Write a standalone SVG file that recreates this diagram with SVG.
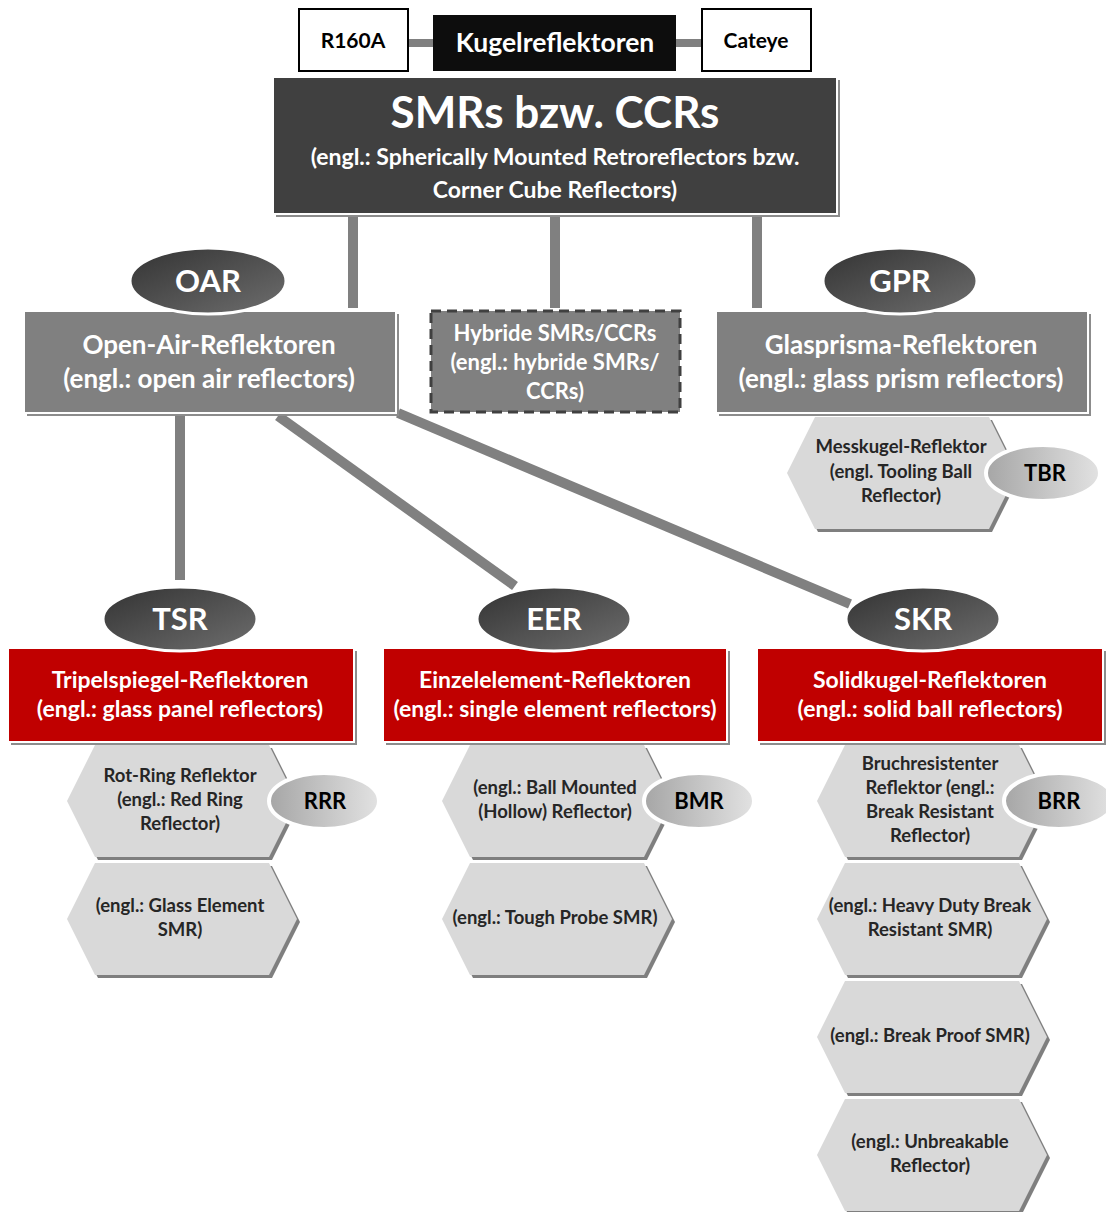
<svg xmlns="http://www.w3.org/2000/svg" width="1106" height="1212" viewBox="0 0 1106 1212">
<defs>
<linearGradient id="gDark" x1="0" y1="0" x2="1" y2="1">
<stop offset="0" stop-color="#333333"/><stop offset="1" stop-color="#6e6e6e"/>
</linearGradient>
<linearGradient id="gLight" x1="0" y1="0" x2="1" y2="0">
<stop offset="0" stop-color="#a6a6a6"/><stop offset="1" stop-color="#e2e2e2"/>
</linearGradient>
<polygon id="hex" points="0,56 28,0 202,0 230,56 202,112 28,112"/>
</defs>
<style>
text{font-family:Lato,"Open Sans","Liberation Sans",sans-serif;font-weight:bold;text-anchor:middle}
.conn{stroke:#808080;stroke-width:10;fill:none}
.shadow{fill:#8c8c8c}
.box{stroke:#ffffff;stroke-width:2}
.grey{fill:#808080}
.red{fill:#c00000}
.hexf{fill:#d9d9d9}
.hexs{fill:#7f7f7f}
.big{fill:url(#gDark);stroke:#ffffff;stroke-width:3}
.small{fill:url(#gLight);stroke:#ffffff;stroke-width:4}
.w{fill:#ffffff}
.k{fill:#000000}
.d{fill:#262626}
.hx{font-size:18.5px}
</style>
<rect width="1106" height="1212" fill="#ffffff"/>
<g id="connectors">
<rect x="408" y="39" width="25" height="8" fill="#808080"/>
<rect x="676" y="39" width="26" height="8" fill="#808080"/>
<line class="conn" x1="353" y1="214" x2="353" y2="308"/>
<line class="conn" x1="555" y1="214" x2="555" y2="308"/>
<line class="conn" x1="757" y1="214" x2="757" y2="308"/>
<line class="conn" x1="180" y1="413" x2="180" y2="580"/>
<line class="conn" x1="278" y1="416" x2="515" y2="586"/>
<line class="conn" x1="398" y1="413" x2="850" y2="604"/>
</g>
<g id="r160a">
<rect x="299" y="9" width="109" height="62" fill="#ffffff" stroke="#000000" stroke-width="2"/>
<text x="353" y="48" font-size="21" class="k">R160A</text>
</g>
<g id="kugel">
<rect x="433" y="15" width="243" height="56" fill="#0d0d0d"/>
<text x="555" y="52" font-size="26.5" class="w">Kugelreflektoren</text>
</g>
<g id="cateye">
<rect x="702" y="9" width="109" height="62" fill="#ffffff" stroke="#000000" stroke-width="2"/>
<text x="756" y="48" font-size="21" class="k">Cateye</text>
</g>
<g id="smr">
<rect x="276" y="80" width="564" height="137" class="shadow"/>
<rect x="273" y="77" width="564" height="137" fill="#404040" class="box"/>
<text x="555" y="128" font-size="44" class="w">SMRs bzw. CCRs</text>
<text x="555" y="165" font-size="23" class="w">(engl.: Spherically Mounted Retroreflectors bzw.</text>
<text x="555" y="198" font-size="23" class="w">Corner Cube Reflectors)</text>
</g>
<g id="oar">
<rect x="27" y="314" width="372" height="102" class="shadow"/>
<rect x="24" y="311" width="372" height="102" class="grey box"/>
<text x="209" y="354" font-size="26" class="w">Open-Air-Reflektoren</text>
<text x="209" y="388" font-size="26" class="w">(engl.: open air reflectors)</text>
<ellipse cx="208" cy="281" rx="78" ry="33" class="big"/>
<text x="208" y="292" font-size="31" class="w">OAR</text>
</g>
<g id="hybrid">
<rect x="431" y="311" width="249" height="101" class="grey" stroke="#404040" stroke-width="3" stroke-dasharray="10 6"/>
<text x="555" y="341" font-size="22" class="w">Hybride SMRs/CCRs</text>
<text x="555" y="370" font-size="22" class="w">(engl.: hybride SMRs/</text>
<text x="555" y="399" font-size="22" class="w">CCRs)</text>
</g>
<g id="gpr">
<rect x="719" y="314" width="372" height="102" class="shadow"/>
<rect x="716" y="311" width="372" height="102" class="grey box"/>
<text x="901" y="354" font-size="26" class="w">Glasprisma-Reflektoren</text>
<text x="901" y="388" font-size="26" class="w">(engl.: glass prism reflectors)</text>
<ellipse cx="900" cy="281" rx="77" ry="33" class="big"/>
<text x="900" y="292" font-size="31" class="w">GPR</text>
</g>
<g id="tbr">
<use href="#hex" x="790" y="420" class="hexs"/>
<use href="#hex" x="787" y="417" class="hexf"/>
<text x="901" y="453" class="d hx">Messkugel-Reflektor</text>
<text x="901" y="478" class="d hx">(engl. Tooling Ball</text>
<text x="901" y="502" class="d hx">Reflector)</text>
<ellipse cx="1043" cy="473" rx="57" ry="28" class="small"/>
<text x="1045" y="481" font-size="22" class="k">TBR</text>
</g>
<g id="tsr">
<rect x="11" y="651" width="346" height="94" class="shadow"/>
<rect x="8" y="648" width="346" height="94" class="red box"/>
<text x="180" y="688" font-size="23" class="w">Tripelspiegel-Reflektoren</text>
<text x="180" y="717" font-size="23" class="w">(engl.: glass panel reflectors)</text>
<ellipse cx="180" cy="619" rx="77" ry="32" class="big"/>
<text x="180" y="630" font-size="31" class="w">TSR</text>
</g>
<g id="rrr">
<use href="#hex" x="70" y="748" class="hexs"/>
<use href="#hex" x="67" y="745" class="hexf"/>
<text x="180" y="782" class="d hx">Rot-Ring Reflektor</text>
<text x="180" y="806" class="d hx">(engl.: Red Ring</text>
<text x="180" y="830" class="d hx">Reflector)</text>
<ellipse cx="324" cy="801" rx="55" ry="28" class="small"/>
<text x="325" y="809" font-size="22" class="k">RRR</text>
</g>
<g id="gesmr">
<use href="#hex" x="70" y="866" class="hexs"/>
<use href="#hex" x="67" y="863" class="hexf"/>
<text x="180" y="912" class="d hx">(engl.: Glass Element</text>
<text x="180" y="936" class="d hx">SMR)</text>
</g>
<g id="eer">
<rect x="386" y="651" width="344" height="94" class="shadow"/>
<rect x="383" y="648" width="344" height="94" class="red box"/>
<text x="555" y="688" font-size="23" class="w">Einzelelement-Reflektoren</text>
<text x="555" y="717" font-size="23" class="w">(engl.: single element reflectors)</text>
<ellipse cx="554" cy="619" rx="77" ry="32" class="big"/>
<text x="554" y="630" font-size="31" class="w">EER</text>
</g>
<g id="bmr">
<use href="#hex" x="445" y="748" class="hexs"/>
<use href="#hex" x="442" y="745" class="hexf"/>
<text x="555" y="794" class="d hx">(engl.: Ball Mounted</text>
<text x="555" y="818" class="d hx">(Hollow) Reflector)</text>
<ellipse cx="699" cy="801" rx="55" ry="28" class="small"/>
<text x="699" y="809" font-size="22" class="k">BMR</text>
</g>
<g id="tpsmr">
<use href="#hex" x="445" y="866" class="hexs"/>
<use href="#hex" x="442" y="863" class="hexf"/>
<text x="555" y="924" class="d hx">(engl.: Tough Probe SMR)</text>
</g>
<g id="skr">
<rect x="760" y="651" width="346" height="94" class="shadow"/>
<rect x="757" y="648" width="346" height="94" class="red box"/>
<text x="930" y="688" font-size="23" class="w">Solidkugel-Reflektoren</text>
<text x="930" y="717" font-size="23" class="w">(engl.: solid ball reflectors)</text>
<ellipse cx="923" cy="619" rx="77" ry="32" class="big"/>
<text x="923" y="630" font-size="31" class="w">SKR</text>
</g>
<g id="brr">
<use href="#hex" x="820" y="748" class="hexs"/>
<use href="#hex" x="817" y="745" class="hexf"/>
<text x="930" y="770" class="d hx">Bruchresistenter</text>
<text x="930" y="794" class="d hx">Reflektor (engl.:</text>
<text x="930" y="818" class="d hx">Break Resistant</text>
<text x="930" y="842" class="d hx">Reflector)</text>
<ellipse cx="1059" cy="801" rx="55" ry="28" class="small"/>
<text x="1059" y="809" font-size="22" class="k">BRR</text>
</g>
<g id="hdbrsmr">
<use href="#hex" x="820" y="866" class="hexs"/>
<use href="#hex" x="817" y="863" class="hexf"/>
<text x="930" y="912" class="d hx">(engl.: Heavy Duty Break</text>
<text x="930" y="936" class="d hx">Resistant SMR)</text>
</g>
<g id="bpsmr">
<use href="#hex" x="820" y="984" class="hexs"/>
<use href="#hex" x="817" y="981" class="hexf"/>
<text x="930" y="1042" class="d hx">(engl.: Break Proof SMR)</text>
</g>
<g id="unbreakable">
<use href="#hex" x="820" y="1102" class="hexs"/>
<use href="#hex" x="817" y="1099" class="hexf"/>
<text x="930" y="1148" class="d hx">(engl.: Unbreakable</text>
<text x="930" y="1172" class="d hx">Reflector)</text>
</g>
</svg>
